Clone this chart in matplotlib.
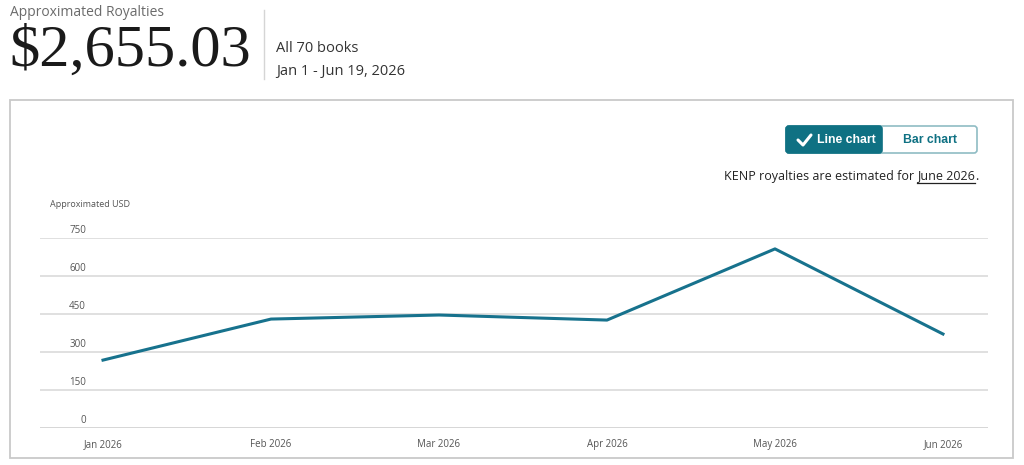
import numpy as np
import matplotlib
matplotlib.use("Agg")
import matplotlib.pyplot as plt
from matplotlib.patches import Rectangle, FancyBboxPatch

# data
months = ["Jan 2026", "Feb 2026", "Mar 2026", "Apr 2026", "May 2026", "Jun 2026"]
royalties = [268, 430, 446, 426, 707, 371]
y_ticks = [0, 150, 300, 450, 600, 750]

teal = "#0f7183"
line_col = "#17728d"
grid_col = "#dddddd"

plt.rcParams["font.family"] = ["Open Sans", "DejaVu Sans"]

W, H = 1024, 465
fig = plt.figure(figsize=(W / 100, H / 100), dpi=100)

# overlay in pixel coordinates (y goes down)
ov = fig.add_axes([0, 0, 1, 1])
ov.set_xlim(0, W)
ov.set_ylim(H, 0)
ov.axis("off")

# header
ov.text(10, 12, "Approximated Royalties", fontsize=10, color="#6b6b6b", va="center")
ov.text(9, 52, "$2,655.03", fontsize=43.5, family="Liberation Serif", color="#1a1a1a", va="center")
ov.plot([264, 264], [10, 79], color="#d5d5d5", lw=1)
ov.text(276, 48, "All 70 books", fontsize=10.5, color="#333333", va="center")
ov.text(276, 71, "Jan 1 - Jun 19, 2026", fontsize=10.5, color="#333333", va="center")

# chart box
ov.add_patch(Rectangle((10, 100), 1003, 358, fill=False, edgecolor="#c9c9c9", lw=1.3))

# buttons
ov.add_patch(FancyBboxPatch((786, 126), 191, 27, boxstyle="round,pad=0,rounding_size=3",
                            facecolor="white", edgecolor="#8fbcc4", lw=1.2))
ov.add_patch(FancyBboxPatch((786, 126), 96, 27, boxstyle="round,pad=0,rounding_size=3",
                            facecolor=teal, edgecolor=teal, lw=1.2))
ov.plot([798, 803, 811], [140, 145, 135], color="white", lw=2.2, solid_capstyle="round")
ov.text(846, 140, "Line chart", fontsize=8.8, weight="bold", family="Liberation Sans",
        color="white", ha="center", va="center")
ov.text(930, 140, "Bar chart", fontsize=8.8, weight="bold", family="Liberation Sans",
        color=teal, ha="center", va="center")

# note with underlined month
fig.canvas.draw()
r = fig.canvas.get_renderer()
inv = ov.transData.inverted()
note_fs = 9
t_dot = ov.text(978, 176, ".", fontsize=note_fs, color="#222222", ha="right", va="center")
bb = t_dot.get_window_extent(r)
x_dot = inv.transform((bb.x0, bb.y0))[0]
t_june = ov.text(x_dot, 176, "June 2026", fontsize=note_fs, color="#222222", ha="right", va="center")
bb = t_june.get_window_extent(r)
x0 = inv.transform((bb.x0, bb.y0))[0]
ov.plot([x0, x_dot], [183, 183], color="#222222", lw=0.9)
ov.text(x0, 176, "KENP royalties are estimated for ", fontsize=note_fs, color="#222222",
        ha="right", va="center")

# chart area: x 40..988 px, y 0 -> 428 px, 750 -> 238 px
x_left, x_right = 40, 988
y0_px, y750_px = 428, 238
ax = fig.add_axes([x_left / W, (H - y0_px) / H, (x_right - x_left) / W, (y0_px - y750_px) / H])
ax.set_xlim(-0.375, 5.268)
ax.set_ylim(0, 750)
ax.axis("off")

for v in y_ticks:
    ax.axhline(v, color="#d3d3d3" if v == 0 else grid_col, lw=1.3, zorder=1)
    ax.annotate(str(v), xy=(46 / (x_right - x_left), v), xycoords=("axes fraction", "data"),
                xytext=(0, 5.5), textcoords="offset points", ha="right", va="center",
                fontsize=7, color="#555555")

ax.plot(range(len(months)), royalties, color=line_col, lw=2.2, zorder=3, clip_on=False)

for i, m in enumerate(months):
    ax.annotate(m, xy=(i, 0), xytext=(0, -12), textcoords="offset points",
                ha="center", va="center", fontsize=7, color="#555555")

ov.text(50, 204, "Approximated USD", fontsize=6.5, color="#555555", va="center")

fig.savefig("out.png", dpi=100)
